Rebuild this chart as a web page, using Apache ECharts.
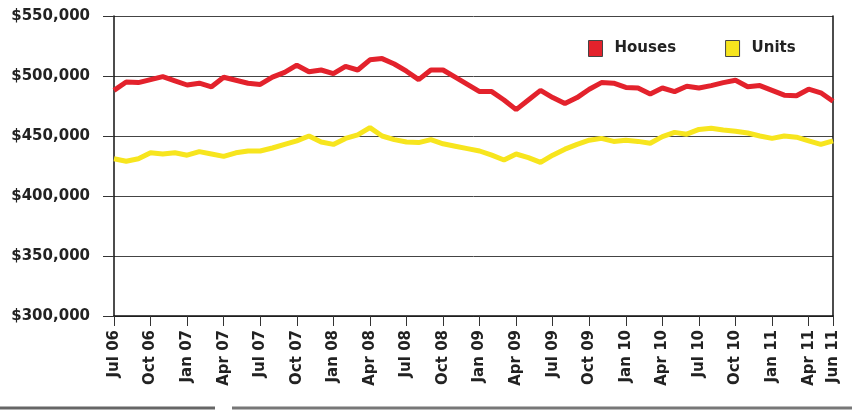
<!DOCTYPE html>
<html>
<head>
<meta charset="utf-8">
<script src="https://cdn.jsdelivr.net/npm/echarts@6/dist/echarts.min.js"></script>
<style>
  html, body { margin: 0; padding: 0; background: #fff; }
  #chart { width: 852px; height: 414px; }
</style>
</head>
<body>
<div id="chart"></div>
<script>
const months = [
  'Jul 06', 'Aug 06', 'Sep 06', 'Oct 06', 'Nov 06', 'Dec 06',
  'Jan 07', 'Feb 07', 'Mar 07', 'Apr 07', 'May 07', 'Jun 07',
  'Jul 07', 'Aug 07', 'Sep 07', 'Oct 07', 'Nov 07', 'Dec 07',
  'Jan 08', 'Feb 08', 'Mar 08', 'Apr 08', 'May 08', 'Jun 08',
  'Jul 08', 'Aug 08', 'Sep 08', 'Oct 08', 'Nov 08', 'Dec 08',
  'Jan 09', 'Feb 09', 'Mar 09', 'Apr 09', 'May 09', 'Jun 09',
  'Jul 09', 'Aug 09', 'Sep 09', 'Oct 09', 'Nov 09', 'Dec 09',
  'Jan 10', 'Feb 10', 'Mar 10', 'Apr 10', 'May 10', 'Jun 10',
  'Jul 10', 'Aug 10', 'Sep 10', 'Oct 10', 'Nov 10', 'Dec 10',
  'Jan 11', 'Feb 11', 'Mar 11', 'Apr 11', 'May 11', 'Jun 11'
]

const houses = [
  488000, 495000, 494500, 497000, 499500, 496000,
  492500, 494000, 491000, 499000, 496500, 494000,
  493000, 499000, 503000, 509000, 503500, 505000,
  502000, 508000, 505000, 513500, 514500, 510000,
  504000, 497000, 505000, 505000, 499000, 493000,
  487000, 487000, 480000, 472000, 480000, 488000,
  482000, 477000, 482000, 489000, 494500, 494000,
  490500, 490000, 485000, 490000, 487000, 491500,
  490000, 492000, 494500, 496500, 491000, 492000,
  488000, 484000, 483500, 489000, 486000, 479000
]

const units = [
  431000, 429000, 431000, 436000, 435000, 436000,
  434000, 437000, 435000, 433000, 436000, 437500,
  437500, 440000, 443000, 446000, 450000, 445000,
  443000, 448000, 451000, 457000, 450000, 447000,
  445000, 444500, 447000, 443500, 441500, 439500,
  437500, 434000, 430000, 435000, 432000, 428000,
  434000, 439000, 443000, 446500, 448000, 445500,
  446500, 445500, 444000, 449500, 453000, 451500,
  455500, 456500, 455000, 454000, 452500, 450000,
  448000, 450000, 449000, 446000, 443000, 446000
]

const yMin = 300000
const yMax = 550000
const yStep = 50000

// which months get a tick + label (every quarter, plus the last month)
const showMonth = function(i) {
  return i % 3 === 0 || i === months.length - 1
}

const myChart = echarts.init(document.getElementById('chart'))
myChart.setOption({
  animation: false,
  backgroundColor: '#fff',
  textStyle: {
    fontFamily: 'DejaVu Sans'
  },
  legend: {
    left: 583,
    top: 35,
    icon: 'rect',
    itemWidth: 14,
    itemHeight: 16,
    itemGap: 49,
    itemStyle: {
      borderColor: '#444',
      borderWidth: 1
    },
    textStyle: {
      color: '#222',
      fontSize: 15,
      fontWeight: 'bold',
      padding: [0, 0, 0, 7]
    },
    data: ['Houses', 'Units']
  },
  grid: {
    left: 114,
    right: 19,
    top: 16,
    bottom: 98
  },
  graphic: [{
    type: 'line',
    shape: { x1: 0, y1: 408, x2: 215, y2: 408 },
    style: { stroke: '#666', lineWidth: 3 }
  }, {
    type: 'line',
    shape: { x1: 232, y1: 408, x2: 852, y2: 408 },
    style: { stroke: '#777', lineWidth: 3 }
  }],
  xAxis: {
    type: 'category',
    boundaryGap: false,
    data: months,
    axisLine: {
      show: true,
      lineStyle: { color: '#111', width: 1.5 }
    },
    axisTick: {
      show: true,
      interval: showMonth,
      length: 10,
      lineStyle: { color: '#333' }
    },
    axisLabel: {
      interval: showMonth,
      rotate: 90,
      margin: 14,
      color: '#222',
      fontSize: 15,
      fontWeight: 'bold'
    },
    splitLine: { show: false }
  },
  yAxis: [{
    type: 'value',
    min: yMin,
    max: yMax,
    interval: yStep,
    axisLine: {
      show: true,
      lineStyle: { color: '#111', width: 1.5 }
    },
    axisTick: {
      show: true,
      length: 11,
      lineStyle: { color: '#333' }
    },
    axisLabel: {
      margin: 24,
      color: '#222',
      fontSize: 15,
      fontWeight: 'bold',
      formatter: function(value) {
        return '$' + value.toLocaleString('en-US')
      }
    },
    splitLine: {
      show: true,
      lineStyle: { color: '#444', width: 1 }
    }
  }, {
    // right hand frame line
    type: 'value',
    position: 'right',
    min: yMin,
    max: yMax,
    interval: yStep,
    axisLine: {
      show: true,
      lineStyle: { color: '#111', width: 1.5 }
    },
    axisTick: { show: false },
    axisLabel: { show: false },
    splitLine: { show: false }
  }],
  series: [{
    name: 'Houses',
    type: 'line',
    symbol: 'none',
    lineStyle: {
      width: 5,
      color: '#e3222c'
    },
    itemStyle: {
      color: '#e3222c'
    },
    data: houses
  }, {
    name: 'Units',
    type: 'line',
    symbol: 'none',
    lineStyle: {
      width: 5,
      color: '#f7e51e'
    },
    itemStyle: {
      color: '#f7e51e'
    },
    data: units
  }]
})
</script>
</body>
</html>
